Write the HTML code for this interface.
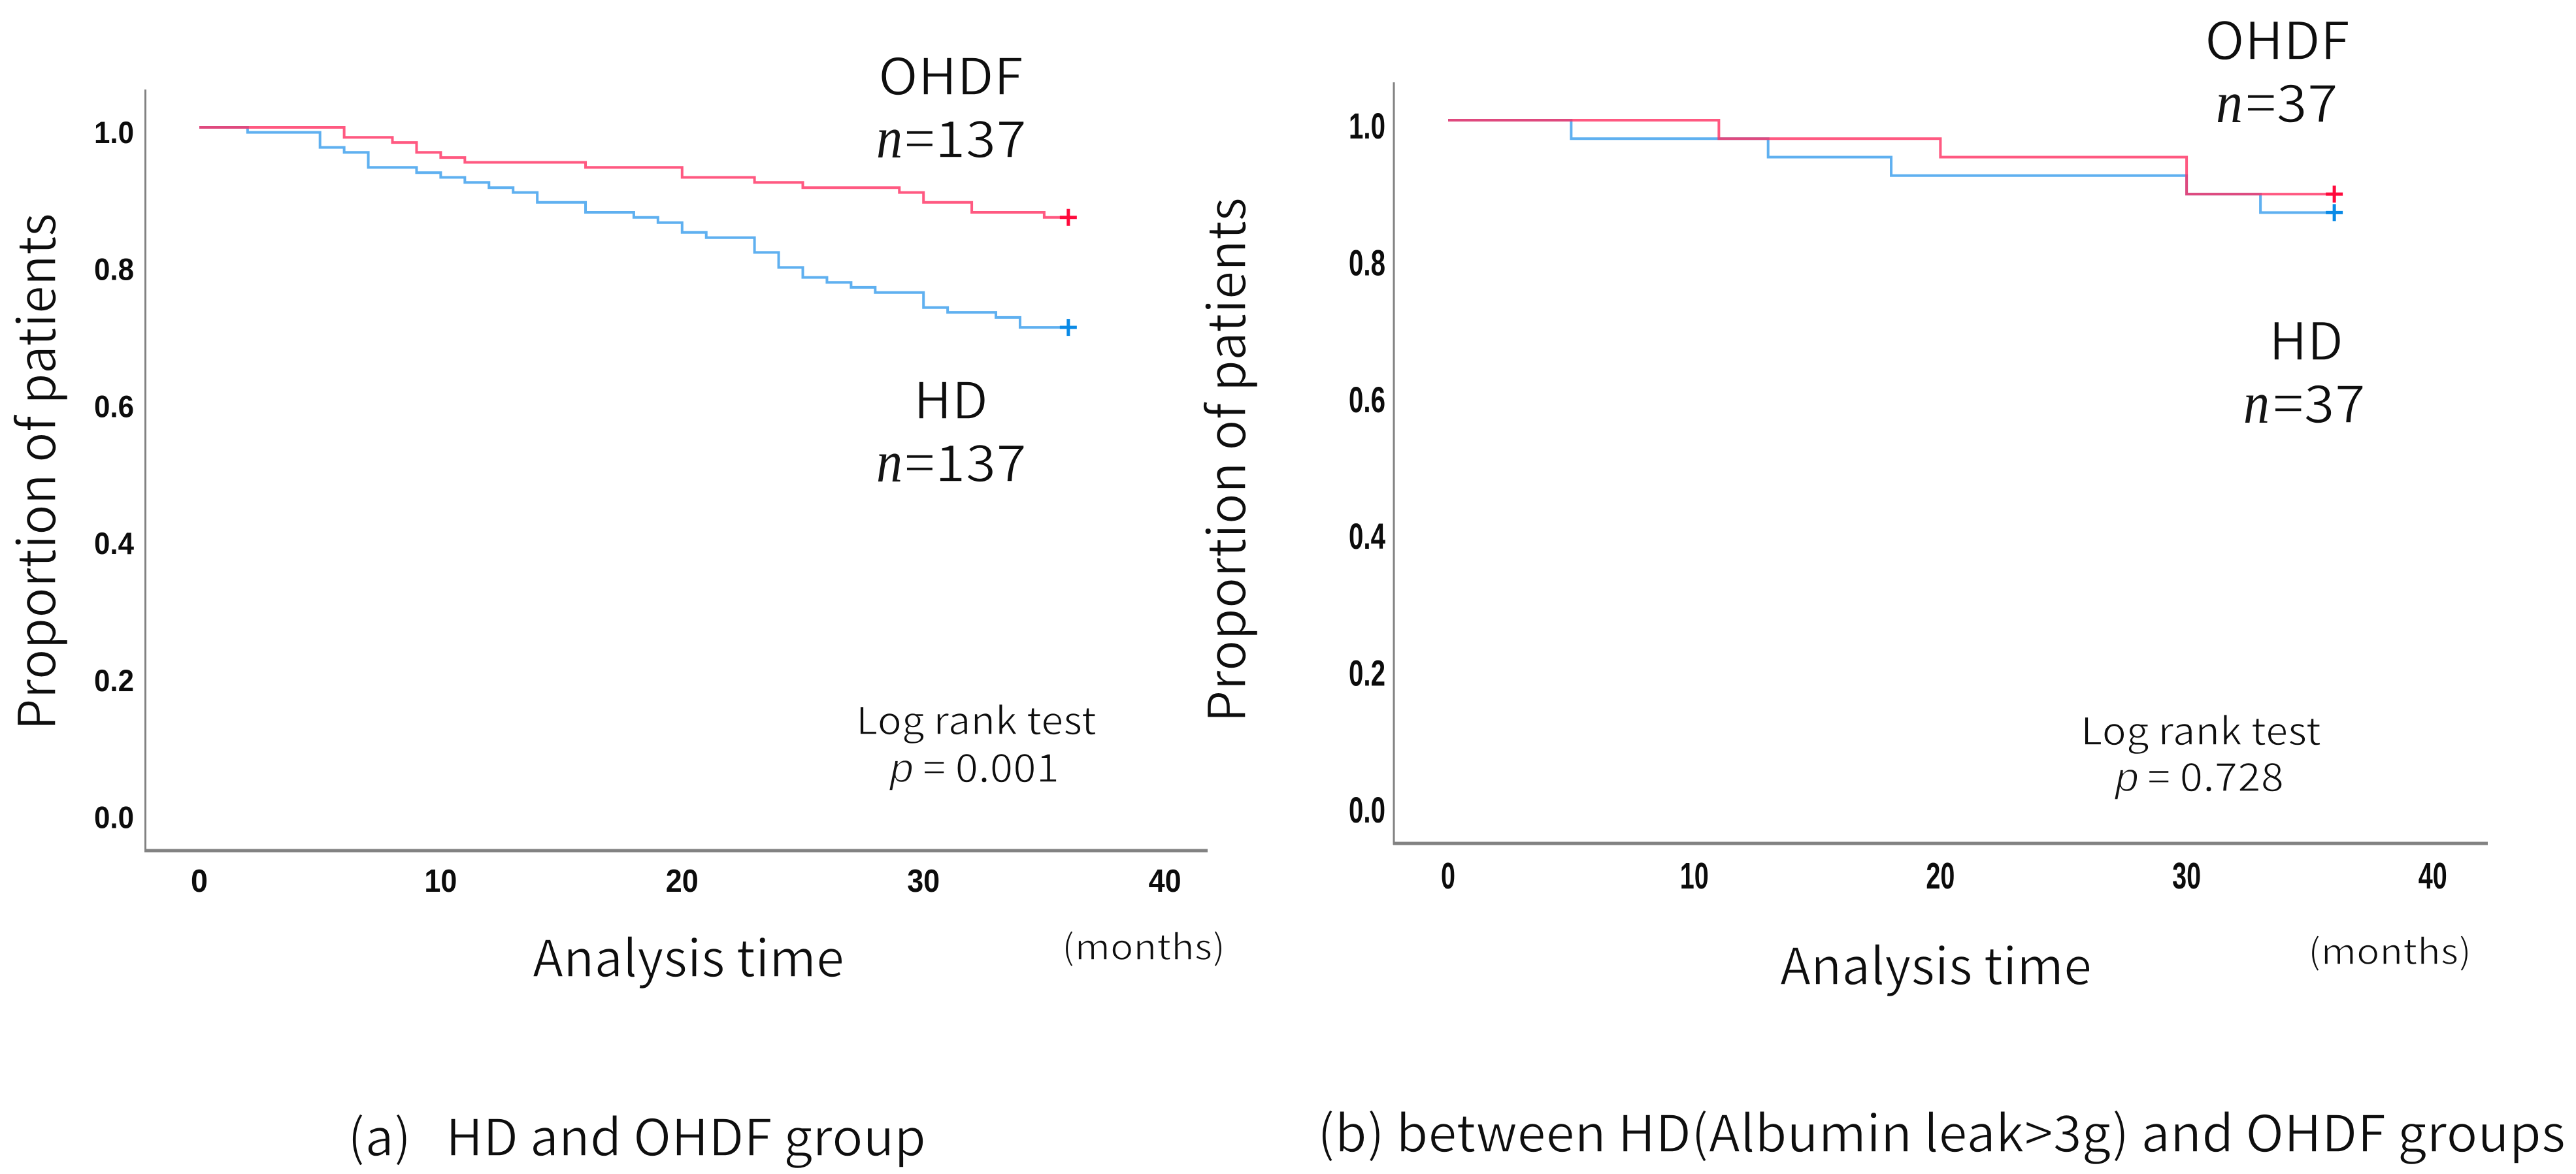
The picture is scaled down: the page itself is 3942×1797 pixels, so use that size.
<!DOCTYPE html>
<html lang="en">
<head>
<meta charset="utf-8">
<title>Kaplan-Meier curves: HD and OHDF groups</title>
<style>
  html, body { margin: 0; padding: 0; background: #ffffff; }
  svg { display: block; }
  .lbl { font-family: "Noto Sans CJK JP", "Liberation Sans", sans-serif; font-weight: 400; fill: #0e0e0e; stroke: #ffffff; stroke-width: 1.4px; }
  .ital { font-family: "Liberation Serif", serif; font-style: italic; fill: #141414; }
  .pit { font-family: "Liberation Sans", sans-serif; font-style: italic; fill: #141414; stroke: #ffffff; stroke-width: 1.6px; }
  .tick { font-family: "Liberation Sans", sans-serif; font-weight: 700; fill: #0c0c0c; }
  .axis { stroke: #828282; fill: none; }
</style>
</head>
<body>
<svg id="figure" xmlns="http://www.w3.org/2000/svg" width="3942" height="1797" viewBox="0 0 3942 1797">
  <rect x="0" y="0" width="3942" height="1797" fill="#ffffff"/>

  <g id="panel-a">
    <line class="axis" x1="222.5" y1="137" x2="222.5" y2="1304" stroke-width="3"/>
    <line class="axis" x1="221" y1="1302" x2="1848" y2="1302" stroke-width="5"/>
    <text class="lbl" font-size="80" transform="translate(85 1118) rotate(-90)" textLength="792" lengthAdjust="spacingAndGlyphs">Proportion of patients</text>
    <text class="lbl" font-size="78" x="815" y="1495" textLength="477" lengthAdjust="spacingAndGlyphs">Analysis time</text>
    <text class="lbl" font-size="54" x="1625" y="1469" textLength="250" lengthAdjust="spacingAndGlyphs">(months)</text>
    <text class="lbl" font-size="78" x="1344" y="145" textLength="222" lengthAdjust="spacingAndGlyphs">OHDF</text>
    <text class="ital" font-size="90" x="1341" y="241" textLength="40" lengthAdjust="spacingAndGlyphs">n</text>
    <text class="lbl" font-size="78" x="1384" y="241" textLength="187" lengthAdjust="spacingAndGlyphs">=137</text>
    <text class="lbl" font-size="78" x="1398" y="641" textLength="114" lengthAdjust="spacingAndGlyphs">HD</text>
    <text class="ital" font-size="90" x="1341" y="737" textLength="40" lengthAdjust="spacingAndGlyphs">n</text>
    <text class="lbl" font-size="78" x="1384" y="737" textLength="187" lengthAdjust="spacingAndGlyphs">=137</text>
    <text class="lbl" font-size="58" x="1310" y="1124" textLength="368" lengthAdjust="spacingAndGlyphs">Log rank test</text>
    <text class="pit" font-size="62" x="1362" y="1197" textLength="36" lengthAdjust="spacingAndGlyphs">p</text>
    <text class="lbl" font-size="60" x="1412" y="1197" textLength="209" lengthAdjust="spacingAndGlyphs">= 0.001</text>
    <text class="lbl" font-size="78" x="532" y="1769" textLength="885" lengthAdjust="spacingAndGlyphs">(a)&#160;&#160;&#160;HD and OHDF group</text>
  </g>

  <g id="panel-b">
    <line class="axis" x1="2133" y1="126" x2="2133" y2="1293" stroke-width="3"/>
    <line class="axis" x1="2132" y1="1291" x2="3807" y2="1291" stroke-width="5"/>
    <text class="lbl" font-size="80" transform="translate(1906 1106) rotate(-90)" textLength="804" lengthAdjust="spacingAndGlyphs">Proportion of patients</text>
    <text class="lbl" font-size="78" x="2724" y="1507" textLength="477" lengthAdjust="spacingAndGlyphs">Analysis time</text>
    <text class="lbl" font-size="54" x="3532" y="1476" textLength="250" lengthAdjust="spacingAndGlyphs">(months)</text>
    <text class="lbl" font-size="80" x="3374" y="91" textLength="222" lengthAdjust="spacingAndGlyphs">OHDF</text>
    <text class="ital" font-size="90" x="3391" y="187" textLength="41" lengthAdjust="spacingAndGlyphs">n</text>
    <text class="lbl" font-size="80" x="3436" y="187" textLength="142" lengthAdjust="spacingAndGlyphs">=37</text>
    <text class="lbl" font-size="80" x="3472" y="551" textLength="114" lengthAdjust="spacingAndGlyphs">HD</text>
    <text class="ital" font-size="90" x="3433" y="647" textLength="40" lengthAdjust="spacingAndGlyphs">n</text>
    <text class="lbl" font-size="80" x="3478" y="647" textLength="142" lengthAdjust="spacingAndGlyphs">=37</text>
    <text class="lbl" font-size="58" x="3184" y="1140" textLength="368" lengthAdjust="spacingAndGlyphs">Log rank test</text>
    <text class="pit" font-size="62" x="3237" y="1211" textLength="36" lengthAdjust="spacingAndGlyphs">p</text>
    <text class="lbl" font-size="60" x="3286" y="1211" textLength="209" lengthAdjust="spacingAndGlyphs">= 0.728</text>
    <text class="lbl" font-size="78" x="2016" y="1763" textLength="1910" lengthAdjust="spacingAndGlyphs">(b) between HD(Albumin leak&gt;3g) and OHDF groups</text>
  </g>
</svg>

<script>
const xTickValues = [0, 10, 20, 30, 40];
const yTickValues = [0.0, 0.2, 0.4, 0.6, 0.8, 1.0];
const yTickLabels = ['0.0', '0.2', '0.4', '0.6', '0.8', '1.0'];

const panelAOhdfMonths = [0, 6, 8, 9, 10, 11, 16, 20, 23, 25, 29, 30, 32, 35, 36];
const panelAOhdfSurvival = [1, 0.9854, 0.978, 0.9635, 0.956, 0.949, 0.9416, 0.927, 0.9197, 0.912, 0.905, 0.8905, 0.876, 0.8686, 0.8686];
const panelAHdMonths = [0, 2, 5, 6, 7, 9, 10, 11, 12, 13, 14, 16, 18, 19, 20, 21, 23, 24, 25, 26, 27, 28, 30, 31, 33, 34, 36];
const panelAHdSurvival = [1, 0.9927, 0.9708, 0.9635, 0.9416, 0.934, 0.927, 0.9197, 0.912, 0.905, 0.8905, 0.876, 0.8686, 0.861, 0.8467, 0.839, 0.8175, 0.7956, 0.781, 0.7737, 0.7664, 0.759, 0.737, 0.73, 0.7226, 0.708, 0.708];

const panelBOhdfMonths = [0, 11, 20, 30, 36];
const panelBOhdfSurvival = [1, 0.973, 0.946, 0.892, 0.892];
const panelBHdMonths = [0, 5, 13, 18, 30, 33, 36];
const panelBHdSurvival = [1, 0.973, 0.946, 0.919, 0.892, 0.865, 0.865];

const SVG_NS = 'http://www.w3.org/2000/svg';

function axisXA(t) { return 305 + t * 36.94; }
function axisYA(v) { return 1243.5 - v * 1048.5; }
function axisXB(t) { return 2216 + t * 37.67; }
function axisYB(v) { return 1231 - v * 1047; }

function stepPath(months, survival, ax, ay) {
  let d = 'M' + ax(months[0]) + ' ' + ay(survival[0]);
  for (let i = 1; i < months.length; i++) {
    d += 'H' + ax(months[i]);
    d += 'V' + ay(survival[i]);
  }
  return d;
}

function drawCurve(parent, months, survival, ax, ay, lineColor, markColor, lineOpacity, curveName, markName) {
  const p = document.createElementNS(SVG_NS, 'path');
  
  
  p.setAttribute('d', stepPath(months, survival, ax, ay));
  p.setAttribute('fill', 'none');
  p.setAttribute('stroke', lineColor);
  p.setAttribute('stroke-width', '4');
  p.setAttribute('stroke-opacity', lineOpacity);
  parent.appendChild(p);

  const last = months.length - 1;
  const cx = ax(months[last]);
  const cy = ay(survival[last]);
  const m = document.createElementNS(SVG_NS, 'path');
  
  
  m.setAttribute('d', 'M' + (cx - 13) + ' ' + cy + 'H' + (cx + 13) + 'M' + cx + ' ' + (cy - 13) + 'V' + (cy + 13));
  m.setAttribute('fill', 'none');
  m.setAttribute('stroke', markColor);
  m.setAttribute('stroke-width', '5');
  parent.appendChild(m);
}

function drawTicks(parent, ax, ay, yRight, yLen, yFont, yOffset, xBase, xFont, xLen1, xLen2) {
  yTickValues.forEach(function (v, i) {
    const t = document.createElementNS(SVG_NS, 'text');
    
    
    t.setAttribute('class', 'tick');
    t.setAttribute('font-size', yFont);
    t.setAttribute('x', yRight - yLen);
    t.setAttribute('y', ay(v) + yOffset);
    t.setAttribute('textLength', yLen);
    t.setAttribute('lengthAdjust', 'spacingAndGlyphs');
    t.textContent = yTickLabels[i];
    parent.appendChild(t);
  });
  xTickValues.forEach(function (v) {
    const label = String(v);
    const len = label.length === 1 ? xLen1 : xLen2;
    const t = document.createElementNS(SVG_NS, 'text');
    
    
    t.setAttribute('class', 'tick');
    t.setAttribute('font-size', xFont);
    t.setAttribute('x', ax(v) - len / 2);
    t.setAttribute('y', xBase);
    t.setAttribute('textLength', len);
    t.setAttribute('lengthAdjust', 'spacingAndGlyphs');
    t.textContent = label;
    parent.appendChild(t);
  });
}

const panelA = document.getElementById('panel-a');
const panelB = document.getElementById('panel-b');

drawTicks(panelA, axisXA, axisYA, 205, 61, 47, 24, 1365, 49, 26, 50);
drawTicks(panelB, axisXB, axisYB, 2120, 56, 56, 28, 1360, 57, 22, 44);

drawCurve(panelA, panelAHdMonths, panelAHdSurvival, axisXA, axisYA, '#5fb0f0', '#0a8ae6', '1', 'panel-a-hd-curve', 'panel-a-hd-censor-mark');
drawCurve(panelA, panelAOhdfMonths, panelAOhdfSurvival, axisXA, axisYA, '#ff2f62', '#ff0a3c', '0.8', 'panel-a-ohdf-curve', 'panel-a-ohdf-censor-mark');
drawCurve(panelB, panelBHdMonths, panelBHdSurvival, axisXB, axisYB, '#5fb0f0', '#0a8ae6', '1', 'panel-b-hd-curve', 'panel-b-hd-censor-mark');
drawCurve(panelB, panelBOhdfMonths, panelBOhdfSurvival, axisXB, axisYB, '#ff2f62', '#ff0a3c', '0.8', 'panel-b-ohdf-curve', 'panel-b-ohdf-censor-mark');
</script>
</body>
</html>
